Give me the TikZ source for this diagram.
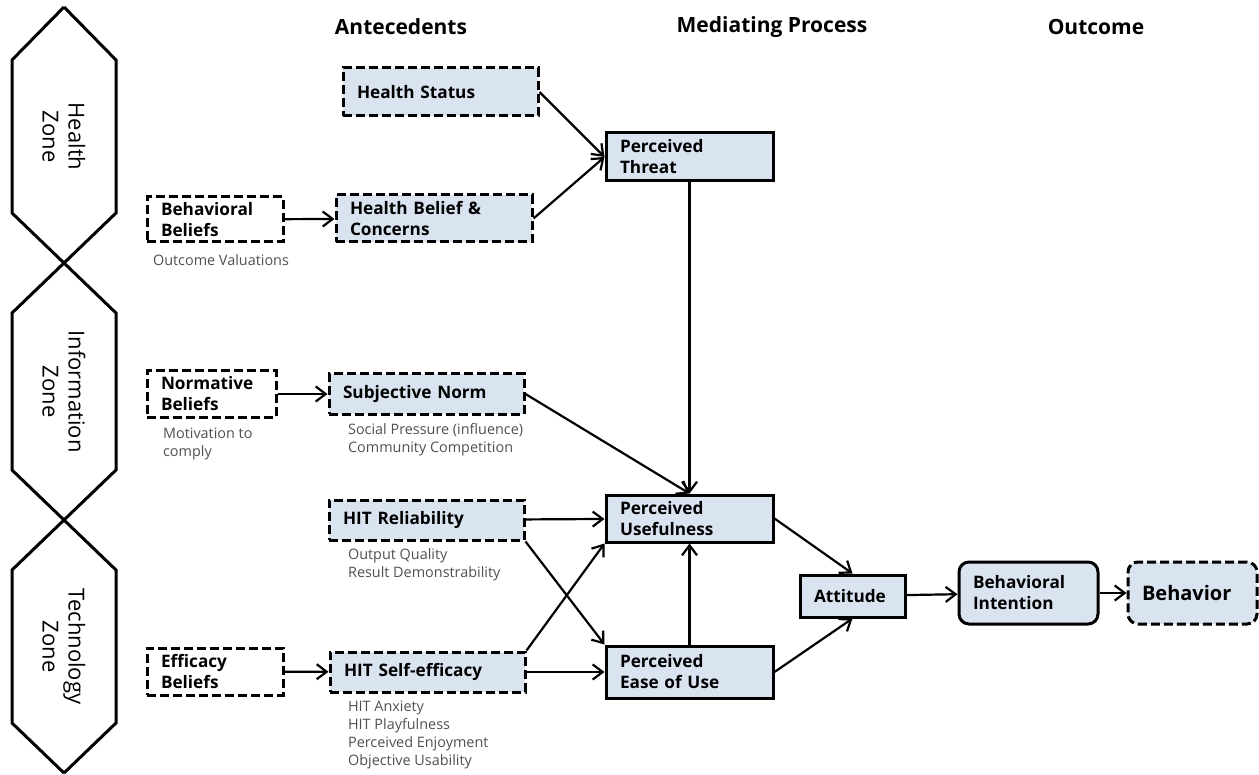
\documentclass[tikz,border=0pt]{standalone}
\usepackage{fontspec}
\setmainfont{Open Sans}
\usetikzlibrary{arrows.meta}
\definecolor{boxfill}{RGB}{218,228,241}
\definecolor{notegray}{RGB}{80,80,80}

\begin{document}
\begin{tikzpicture}[x=0.5pt,y=-0.5pt,line width=1.1pt,
    >={Straight Barb[length=5pt,width=7.5pt]},
    box/.style={draw,line width=1.5pt,fill=boxfill,inner xsep=7pt,inner ysep=0pt,align=left,
      font=\bfseries\fontsize{8.6}{10.5}\selectfont},
    dbox/.style={box,dash pattern=on 4.5pt off 2pt},
    note/.style={anchor=west,align=left,inner sep=0pt,text=notegray,
      font=\fontsize{7.2}{9}\selectfont},
    head/.style={font=\bfseries\fontsize{10.5}{12}\selectfont},
    zone/.style={rotate=-90,align=center,font=\fontsize{11}{13}\selectfont}]
  \useasboundingbox (0,0) rectangle (1259,775);

  % zones on the left
  \draw[line width=1.5pt] (64,7) -- (116,60) -- (116,213) -- (12,313) -- (12,470)
    -- (116,570) -- (116,723) -- (64,773);
  \draw[line width=1.5pt] (64,7) -- (12,60) -- (12,213) -- (116,313) -- (116,470)
    -- (12,570) -- (12,723) -- (64,773);
  \node[zone] (hzone) at (64,136.5) {Health\\Zone};
  \node[zone] (izone) at (64,391.5) {Information\\Zone};
  \node[zone] (tzone) at (64,646.5) {Technology\\Zone};

  % column heads
  \node[head] (ante) at (401,27) {Antecedents};
  \node[head] (medi) at (772,27) {Mediating Process};
  \node[head] (outc) at (1096,27) {Outcome};

  % antecedents
  \node[dbox,text width=83.5pt,minimum height=24pt] (hstat) at (440.5,92) {Health Status};
  \node[dbox,text width=84pt,minimum height=23.5pt] (hbel) at (434,218.5) {Health Belief \&\\Concerns};
  \node[dbox,fill=white,text width=54pt,minimum height=22.5pt] (bbel) at (215,219.5) {Behavioral\\Beliefs};
  \node[dbox,fill=white,text width=50.5pt,minimum height=23pt] (nbel) at (211.5,394) {Normative\\Beliefs};
  \node[dbox,text width=83.5pt,minimum height=20pt] (snorm) at (426.5,394) {Subjective Norm};
  \node[dbox,text width=83.5pt,minimum height=20pt] (hrel) at (426.5,520) {HIT Reliability};
  \node[dbox,fill=white,text width=54pt,minimum height=23.5pt] (ebel) at (215,671.5) {Efficacy\\Beliefs};
  \node[dbox,text width=83.5pt,minimum height=20pt] (hself) at (427.5,672) {HIT Self-efficacy};

  \node[note] (bbelnote) at (152,260) {Outcome Valuations};
  \node[note] (nbelnote) at (162,444) {Motivation to\\comply};
  \node[note] (snormnote) at (347,439.5) {Social Pressure (influence)\\Community Competition};
  \node[note] (hrelnote) at (347,565) {Output Quality\\Result Demonstrability};
  \node[note] (hselfnote) at (347,735) {HIT Anxiety\\HIT Playfulness\\Perceived Enjoyment\\Objective Usability};

  % mediating process
  \node[box,text width=69.5pt,minimum height=24pt] (pthr) at (689.5,157) {Perceived\\Threat};
  \node[box,text width=69.5pt,minimum height=23.5pt] (pu) at (689.5,518.5) {Perceived\\Usefulness};
  \node[box,text width=69.5pt,minimum height=26pt] (peou) at (689.5,672) {Perceived\\Ease of Use};
  \node[box,text width=38.5pt,minimum height=21pt] (att) at (852.5,596) {Attitude};

  % outcome
  \node[box,rounded corners=5pt,text width=55.5pt,minimum height=31pt] (bint) at (1028.5,593) {Behavioral\\Intention};
  \node[dbox,rounded corners=5pt,text width=50.5pt,minimum height=31pt,
    font=\bfseries\fontsize{10}{12}\selectfont] (behav) at (1192.5,593) {Behavior};

  \draw[->] (hstat.east) -- (pthr.west);
  \draw[->] (hbel.east) -- (pthr.west);
  \draw[->] (bbel) -- (hbel);
  \draw[->] (nbel) -- (snorm);
  \draw[->] (ebel) -- (hself);
  \draw[->] (pthr) -- (pu);
  \draw[->] (snorm.east) -- (pu.north);
  \draw[->] (hrel) -- (pu);
  \draw[->] (hrel.south east) -- (peou.north west);
  \draw[->] (hself.north east) -- (pu.south west);
  \draw[->] (hself) -- (peou);
  \draw[->] (peou) -- (pu);
  \draw[->] (pu.east) -- (att.north);
  \draw[->] (peou.east) -- (att.south);
  \draw[->] (att) -- (bint);
  \draw[->] (bint) -- (behav);
\end{tikzpicture}
\end{document}
